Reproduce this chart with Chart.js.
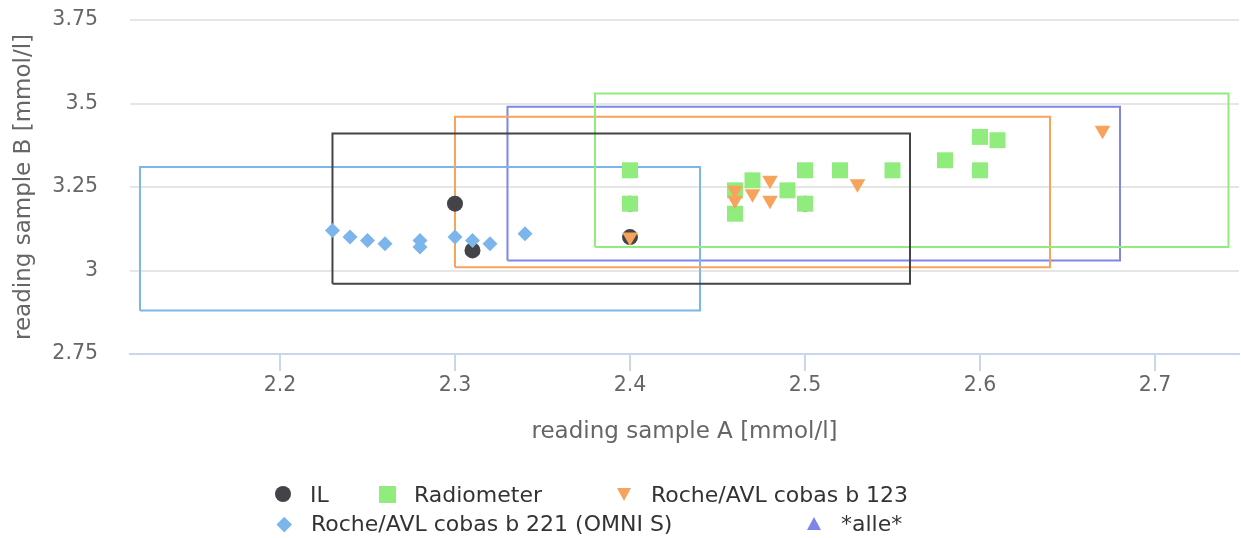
<!DOCTYPE html>
<html>
<head>
<meta charset="utf-8">
<script src="https://cdn.jsdelivr.net/npm/chart.js@4"></script>
<style>
  body { margin: 0; background: #fff; }
  #wrap { position: relative; width: 1241px; height: 538px; }
  #legend { position: absolute; left: 0; top: 0; width: 1241px; height: 538px; pointer-events: none;
    font-family: "DejaVu Sans", sans-serif; font-size: 22px; color: #333; }
  .item { position: absolute; height: 30px; display: flex; align-items: center; white-space: nowrap; }
  .sym { width: 16px; height: 16px; margin-right: 19px; position: relative; flex: none; }
  .sym span { position: absolute; display: block; }
</style>
</head>
<body>
<div id="wrap">
  <canvas id="grafico" width="1241" height="538"></canvas>
  <div id="legend"></div>
</div>
<script>
// series
const seriesNames = ["IL", "Radiometer", "Roche/AVL cobas b 123", "Roche/AVL cobas b 221 (OMNI S)", "*alle*"];
const seriesColors = ["#434348", "#90ed7d", "#f7a35c", "#7cb5ec", "#8085e9"];

// points (sample A, sample B)
const ilX = [2.30, 2.31, 2.40, 2.40, 2.50];
const ilY = [3.20, 3.06, 3.20, 3.10, 3.20];
const radX = [2.40, 2.40, 2.46, 2.46, 2.47, 2.49, 2.50, 2.50, 2.52, 2.55, 2.58, 2.60, 2.61, 2.60];
const radY = [3.30, 3.20, 3.17, 3.24, 3.27, 3.24, 3.30, 3.20, 3.30, 3.30, 3.33, 3.40, 3.39, 3.30];
const b123X = [2.40, 2.46, 2.46, 2.47, 2.48, 2.48, 2.53, 2.67];
const b123Y = [3.10, 3.24, 3.21, 3.23, 3.27, 3.21, 3.26, 3.42];
const omniX = [2.23, 2.24, 2.25, 2.26, 2.28, 2.28, 2.30, 2.31, 2.32, 2.34];
const omniY = [3.12, 3.10, 3.09, 3.08, 3.09, 3.07, 3.10, 3.09, 3.08, 3.11];
const alleX = [];
const alleY = [];

// target boxes [xMin, xMax, yMin, yMax]
const ilBox = [2.23, 2.56, 2.96, 3.41];
const radBox = [2.38, 2.742, 3.07, 3.53];
const b123Box = [2.30, 2.64, 3.01, 3.46];
const omniBox = [2.12, 2.44, 2.88, 3.31];
const alleBox = [2.33, 2.68, 3.03, 3.49];

// axes
const xTicks = [2.2, 2.3, 2.4, 2.5, 2.6, 2.7];
const yTicks = [2.75, 3, 3.25, 3.5, 3.75];

const zip = (xs, ys) => xs.map((x, i) => ({ x: x, y: ys[i] }));
const boxPath = (b) => [
  { x: b[0], y: b[2] }, { x: b[1], y: b[2] }, { x: b[1], y: b[3] },
  { x: b[0], y: b[3] }, { x: b[0], y: b[2] },
];

const markers = [
  { style: "circle", rotation: 0, radius: 8 },
  { style: "rect", rotation: 0, radius: 11.3 },
  { style: "triangle", rotation: 180, radius: 9 },
  { style: "rectRot", rotation: 0, radius: 7.5 },
  { style: "triangle", rotation: 0, radius: 9 },
];
const pontos = [zip(ilX, ilY), zip(radX, radY), zip(b123X, b123Y), zip(omniX, omniY), zip(alleX, alleY)];
const zOrder = [4, 3, 2, 1, 5];
const caixas = [ilBox, radBox, b123Box, omniBox, alleBox];

const datasets = [];
seriesNames.forEach((nome, i) => {
  datasets.push({
    label: nome,
    data: pontos[i],
    pointStyle: markers[i].style,
    rotation: markers[i].rotation,
    pointRadius: markers[i].radius,
    pointHoverRadius: markers[i].radius,
    pointBorderWidth: 0,
    backgroundColor: seriesColors[i],
    borderColor: seriesColors[i],
    order: zOrder[i],
  });
});
caixas.forEach((b, i) => {
  datasets.push({
    label: seriesNames[i] + " box",
    data: boxPath(b),
    showLine: true,
    fill: false,
    borderColor: seriesColors[i],
    backgroundColor: "transparent",
    borderWidth: 2,
    pointRadius: 0,
    pointHoverRadius: 0,
    tension: 0,
    order: 10 + i,
  });
});

Chart.defaults.font.family = "'DejaVu Sans', sans-serif";

const fmt = (v) => String(+Number(v).toFixed(2));

new Chart(document.getElementById("grafico"), {
  type: "scatter",
  data: { datasets: datasets },
  options: {
    responsive: false,
    animation: false,
    layout: { autoPadding: false, padding: { top: 20, right: 2, bottom: 84, left: 0 } },
    plugins: { legend: { display: false }, tooltip: { enabled: false } },
    scales: {
      x: {
        type: "linear",
        min: 2.1143,
        max: 2.748,
        afterBuildTicks: (s) => { s.ticks = xTicks.map((v) => ({ value: v })); },
        afterFit: (s) => { s.height = 100; s.paddingLeft = 0; s.paddingRight = 0; },
        ticks: { callback: fmt, color: "#666", font: { size: 20.5 }, padding: 2, maxRotation: 0, autoSkip: false },
        grid: { drawOnChartArea: false, drawTicks: true, tickLength: 17, color: "#ccd6eb", lineWidth: 2 },
        border: { display: true, color: "#ccd6eb", width: 2 },
        title: {
          display: true,
          text: "reading sample A [mmol/l]",
          color: "#666",
          font: { size: 23 },
          padding: { top: 0, bottom: 8 },
        },
      },
      y: {
        min: 2.75,
        max: 3.75,
        afterBuildTicks: (s) => { s.ticks = yTicks.map((v) => ({ value: v })); },
        afterFit: (s) => { s.width = 130; s.paddingTop = 0; s.paddingBottom = 0; },
        ticks: { callback: fmt, color: "#666", font: { size: 20.5 }, padding: 32 },
        grid: {
          drawTicks: false,
          lineWidth: 2,
          color: (c) => (c.tick && c.tick.value === 2.75 ? "rgba(0,0,0,0)" : "#e6e6e6"),
        },
        border: { display: false },
        title: {
          display: true,
          text: "reading sample B [mmol/l]",
          color: "#666",
          font: { size: 23 },
          padding: { top: 10, bottom: 0 },
        },
      },
    },
  },
});

// =============================
// LEGENDA (HTML)
// =============================
const legendSlots = [[275, 494], [379, 494], [616, 494], [276, 523.5], [806, 523.5]];

function simbolo(i) {
  const cor = seriesColors[i];
  const m = markers[i];
  const box = document.createElement("div");
  box.className = "sym";
  const s = document.createElement("span");
  if (m.style === "circle") {
    Object.assign(s.style, { left: "0", top: "0", width: "16px", height: "16px", borderRadius: "50%", background: cor });
  } else if (m.style === "rect") {
    Object.assign(s.style, { left: "0", top: "0", width: "17px", height: "17px", background: cor });
  } else if (m.style === "rectRot") {
    Object.assign(s.style, { left: "3px", top: "3px", width: "10.5px", height: "10.5px", background: cor, transform: "rotate(45deg)" });
  } else if (m.rotation === 180) {
    Object.assign(s.style, { left: "0.5px", top: "1.5px", width: "0", height: "0",
      borderLeft: "7.5px solid transparent", borderRight: "7.5px solid transparent", borderTop: "13px solid " + cor });
  } else {
    Object.assign(s.style, { left: "0.5px", top: "1.5px", width: "0", height: "0",
      borderLeft: "7.5px solid transparent", borderRight: "7.5px solid transparent", borderBottom: "13px solid " + cor });
  }
  box.appendChild(s);
  return box;
}

const legenda = document.getElementById("legend");
seriesNames.forEach((nome, i) => {
  const item = document.createElement("div");
  item.className = "item";
  item.style.left = legendSlots[i][0] + "px";
  item.style.top = legendSlots[i][1] - 15 + "px";
  item.appendChild(simbolo(i));
  const txt = document.createElement("span");
  txt.textContent = nome;
  item.appendChild(txt);
  legenda.appendChild(item);
});
</script>
</body>
</html>
